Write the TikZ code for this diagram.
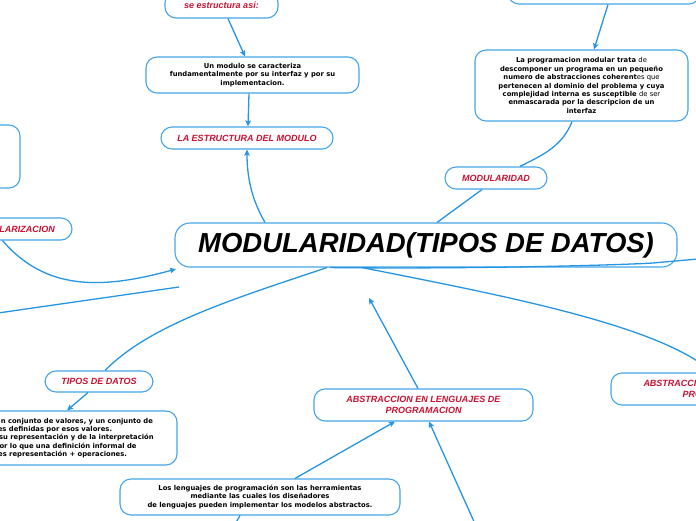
\documentclass[tikz,border=0pt]{standalone}
\usepackage{fontspec}
\setmainfont{Liberation Sans}
\newfontfamily\smallfont{DejaVu Sans}
\usetikzlibrary{arrows.meta,calc}
\definecolor{boxblue}{RGB}{70,165,232}
\definecolor{linkblue}{RGB}{38,150,226}
\definecolor{labelred}{RGB}{200,18,50}
\tikzset{
 box/.style={draw=boxblue, line width=1.1pt, rounded corners=11pt, fill=white, align=center, inner sep=0pt},
 lbl/.style={box, font=\fontsize{9}{10.5}\selectfont\bfseries\itshape, text=labelred},
 txt/.style={box, font=\smallfont\bfseries\fontsize{6.8}{8.4}\selectfont, text=black},
 link/.style={draw=linkblue, line width=1.3pt},
 arr/.style={link, -{Stealth[length=6pt,width=5.5pt,inset=1pt]}},
}
\begin{document}
\begin{tikzpicture}[x=1pt,y=-1pt]
\useasboundingbox (0,0) rectangle (696,520);
\fill[white] (0,0) rectangle (696,520);
\clip (0,0) rectangle (696,520);

\coordinate (c1) at (176,269);
\coordinate (c2a) at (-2,313);
\coordinate (c2b) at (179,287);
\coordinate (c3) at (369,298);
\coordinate (c4) at (720,257);
\coordinate (c5) at (476,526);
\coordinate (c6) at (234,526);

% nodes
\node[lbl, minimum width=113pt, minimum height=26pt] (se) at (221.5,5) {\raisebox{-2pt}{se estructura asi:}};
\node[txt, minimum width=213pt, minimum height=36pt] (mod) at (252.5,75) {Un modulo se caracteriza\\fundamentalmente por su interfaz y por su\\implementacion.};
\node[lbl, minimum width=172pt, minimum height=22pt] (est) at (247,138) {LA ESTRUCTURA DEL MODULO};
\node[box, minimum width=192pt, minimum height=26pt] (top) at (604,-9) {};
\node[txt, minimum width=213pt, minimum height=71pt] (prog) at (581.5,85.5) {La programacion modular trata {\mdseries de}\\descomponer un programa en un pequeño\\numero de abstracciones coherent{\mdseries es que}\\pertenecen al dominio del problema y cuya\\complejidad interna es susceptible {\mdseries de ser}\\enmascarada por la descripcion de un\\interfaz};
\node[lbl, minimum width=102pt, minimum height=22pt] (modul) at (496,178) {MODULARIDAD};
\node[box, rounded corners=15pt, minimum width=502pt, minimum height=44pt, font=\fontsize{27.5}{30}\selectfont\bfseries\itshape] (main) at (426,245) {MODULARIDAD(TIPOS DE DATOS)};
\node[box, minimum width=80pt, minimum height=63pt] (left) at (-20,156.5) {};
\node[lbl, minimum width=117pt, minimum height=22pt] (lariz) at (13.5,229) {MODULARIZACION};
\node[lbl, minimum width=108pt, minimum height=21pt] (tipos) at (99,381.5) {TIPOS DE DATOS};
\node[txt, minimum width=282pt, minimum height=54pt] (tdesc) at (36,438) {Un tipo de datos es un conjunto de valores, y un conjunto de\\operaciones definidas por esos valores.\\Es independiente de su representación y de la interpretación\\de la máquina, por lo que una definición informal de\\tipo de datos es representación + operaciones.};
\node[lbl, minimum width=219pt, minimum height=32pt] (abs) at (423.5,405) {ABSTRACCION EN LENGUAJES DE\\PROGRAMACION};
\node[lbl, minimum width=219pt, minimum height=32pt] (absr) at (720.5,389) {ABSTRACCION EN LENGUAJES DE\\PROGRAMACION};
\node[txt, minimum width=280pt, minimum height=36pt] (leng) at (260,497) {Los lenguajes de programación son las herramientas\\mediante las cuales los diseñadores\\de lenguajes pueden implementar los modelos abstractos.};

% links
\draw[arr] ([xshift=6.5pt]se.south) -- ([xshift=-7.5pt]mod.north);
\draw[arr] ([xshift=-3.5pt]mod.south) -- ([xshift=1pt]est.north);
\draw[arr] ([xshift=-161pt]main.north) .. controls (252,200) and (247,178) .. (est.south);
\draw[arr] ([xshift=4pt]top.south) -- ([xshift=12.5pt]prog.north);
\draw[link] ([xshift=-9.5pt]prog.south) .. controls (562,148) and (538,157) .. ([xshift=24pt]modul.north);
\draw[link] ([xshift=-14pt]modul.south) -- ([xshift=11pt]main.north);
\draw[arr] ([xshift=-11pt]lariz.south) .. controls (45,290) and (100,290) .. (c1);
\draw[link] (c2a) -- (c2b);
\draw[link] ([xshift=-99pt]main.south) .. controls (230,300) and (150,325) .. ([xshift=6pt]tipos.north);
\draw[arr] ([xshift=-11pt]tipos.south) -- ([xshift=31pt]tdesc.north);
\draw[arr] ([xshift=-5.5pt]abs.north) -- (c3);
\draw[link] ([xshift=-64pt]main.south) .. controls (500,295) and (660,325) .. ([xshift=-8pt]absr.north);
\draw[link] ([xshift=-96pt]main.south) .. controls (450,269) and (600,266) .. (653,263) -- (c4);
\draw[arr] ([xshift=35pt]leng.north) -- ([xshift=-28.5pt]abs.south);
\draw[arr] (c5) -- ([xshift=5.5pt]abs.south);
\draw[link] ([xshift=-20pt]leng.south) -- (c6);
\end{tikzpicture}
\end{document}
